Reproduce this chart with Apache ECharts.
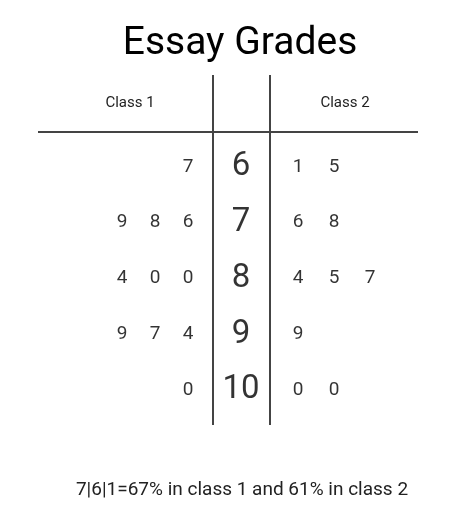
<!DOCTYPE html>
<html><head><meta charset="utf-8">
<script src="https://cdn.jsdelivr.net/npm/echarts@6/dist/echarts.min.js"></script>
<style>html,body{margin:0;padding:0;background:#fff}#c{width:450px;height:522px}</style>
</head><body><div id="c"></div>
<script>
const stems = ['6','7','8','9','10'];
const class1Leaves = [[7],[6,8,9],[0,0,4],[4,7,9],[0]];
const class2Leaves = [[1,5],[6,8],[4,5,7],[9],[0,0]];
const titleText = 'Essay Grades';
const keyText = '7|6|1=67% in class 1 and 61% in class 2';

const F = 'Roboto, "Liberation Sans", sans-serif';
const leaf1 = [], leaf2 = [], stemPts = [];
stems.forEach((s, r) => {
  stemPts.push([241, s, s]);
  class1Leaves[r].forEach((v, i) => leaf1.push([188 - 33 * i, s, String(v)]));
  class2Leaves[r].forEach((v, i) => leaf2.push([298 + 36 * i, s, String(v)]));
});
const lbl = (size) => ({show: true, position: 'inside', formatter: p => p.data[2], fontSize: size, color: '#000', fontFamily: F});
const ser = (data, size) => ({type: 'scatter', symbolSize: 2, itemStyle: {color: 'rgba(0,0,0,0)'}, data, label: lbl(size), silent: true});
const chart = echarts.init(document.getElementById('c'));
chart.setOption({
  animation: false,
  grid: {left: 0, right: 0, top: 139, bottom: 104},
  xAxis: {type: 'value', min: 0, max: 450, show: false},
  yAxis: {type: 'category', data: stems, inverse: true, show: false},
  series: [ser(stemPts, 33), ser(leaf1, 19), ser(leaf2, 19)],
  graphic: [
    {type: 'text', x: 240, y: 44, style: {text: titleText, fill: '#000', font: '39px ' + F, align: 'center', verticalAlign: 'middle'}},
    {type: 'line', shape: {x1: 38, y1: 132, x2: 418, y2: 132}, style: {stroke: '#444', lineWidth: 2}},
    {type: 'line', shape: {x1: 213, y1: 75, x2: 213, y2: 425}, style: {stroke: '#444', lineWidth: 2}},
    {type: 'line', shape: {x1: 270, y1: 75, x2: 270, y2: 425}, style: {stroke: '#444', lineWidth: 2}},
    {type: 'text', x: 130, y: 103, style: {text: 'Class 1', fill: '#222', font: '15px ' + F, align: 'center', verticalAlign: 'middle'}},
    {type: 'text', x: 345, y: 103, style: {text: 'Class 2', fill: '#222', font: '15px ' + F, align: 'center', verticalAlign: 'middle'}},
    {type: 'text', x: 242, y: 490, style: {text: keyText, fill: '#222', font: '19px ' + F, align: 'center', verticalAlign: 'middle'}}
  ]
});
</script></body></html>
